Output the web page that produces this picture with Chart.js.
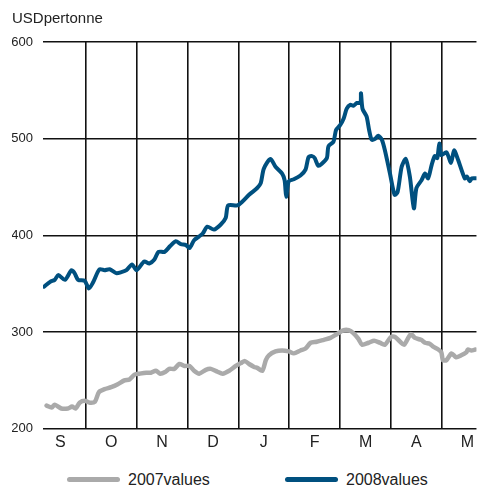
<!DOCTYPE html>
<html>
<head>
<meta charset="utf-8">
<script src="https://cdn.jsdelivr.net/npm/chart.js@4.4.0/dist/chart.umd.min.js"></script>
<style>
    body { margin: 0; background: #fff; font-family: "Liberation Sans", Arial, sans-serif; }
    #wrap { position: relative; width: 478px; height: 458px; }
    #legend { position: absolute; top: 470px; left: 0; width: 478px; height: 20px; }
    .item { position: absolute; top: 0; display: flex; align-items: center; font-size: 16px; line-height: 19px; color: #222; }
    .swatch { display: inline-block; width: 53px; height: 5px; border-radius: 3px; margin-right: 8px; }
</style>
</head>
<body>
<div id="wrap"><canvas id="priceChart"></canvas></div>
<div id="legend">
    <div class="item" style="left:67px"><span class="swatch" style="background:#aaaaaa"></span>2007values</div>
    <div class="item" style="left:285px"><span class="swatch" style="background:#00507f"></span>2008values</div>
</div>
<script>
// x = months since 1 September
const months = ['S', 'O', 'N', 'D', 'J', 'F', 'M', 'A', 'M'];
const monthMid = [0.5, 1.5, 2.5, 3.5, 4.5, 5.5, 6.5, 7.5, 8.5];
const monthLines = [1, 2, 3, 4, 5, 6, 7, 8];
const yTicks = [200, 300, 400, 500, 600];

const x2007 = [0.23, 0.33, 0.39, 0.52, 0.65, 0.73, 0.80, 0.88, 0.98, 1.08, 1.18, 1.26, 1.37, 1.50, 1.63, 1.76, 1.86, 1.96,
    2.06, 2.19, 2.28, 2.38, 2.46, 2.57, 2.64, 2.74, 2.84, 2.94, 3.04, 3.13, 3.23, 3.36, 3.46, 3.59, 3.69, 3.82, 3.95,
    4.05, 4.13, 4.21, 4.31, 4.37, 4.47, 4.54, 4.60, 4.73, 4.86, 4.99, 5.09, 5.22, 5.32, 5.42, 5.54, 5.68, 5.81, 5.94,
    6.07, 6.17, 6.26, 6.36, 6.43, 6.56, 6.67, 6.78, 6.88, 7.00, 7.08, 7.18, 7.26, 7.39, 7.47, 7.59, 7.67, 7.76, 7.83,
    7.93, 7.99, 8.02, 8.09, 8.19, 8.28, 8.38, 8.48, 8.51, 8.58, 8.66];
const v2007 = [224, 222, 225, 221, 221, 223, 221, 227, 229, 227, 228, 238, 241, 243, 246, 250, 251, 256,
    257, 258, 258, 260, 257, 259, 262, 262, 267, 265, 265, 260, 257, 261, 262, 259, 257, 260, 265,
    268, 270, 267, 264, 263, 260, 271, 276, 280, 281, 280, 278, 281, 283, 289, 290, 292, 294, 298,
    302, 302, 299, 293, 287, 289, 291, 289, 287, 295, 295, 290, 287, 298, 294, 292, 289, 288, 285,
    282, 279, 271, 271, 278, 274, 276, 279, 282, 281, 282];

const x2008 = [0.18, 0.30, 0.39, 0.46, 0.59, 0.72, 0.78, 0.85, 0.98, 1.06, 1.14, 1.27, 1.37, 1.47, 1.60, 1.70, 1.80, 1.91,
    2.00, 2.15, 2.25, 2.35, 2.43, 2.55, 2.66, 2.77, 2.87, 2.97, 3.04, 3.13, 3.23, 3.30, 3.39, 3.52, 3.65, 3.75, 3.80,
    3.98, 4.08, 4.21, 4.37, 4.44, 4.50, 4.63, 4.73, 4.86, 4.91, 4.94, 4.99, 5.09, 5.22, 5.32, 5.38, 5.45, 5.50, 5.57,
    5.64, 5.74, 5.77, 5.87, 5.92, 6.00, 6.07, 6.13, 6.20, 6.26, 6.33, 6.40, 6.41, 6.44, 6.52, 6.57, 6.62, 6.69, 6.75,
    6.82, 6.88, 6.98, 7.07, 7.13, 7.21, 7.29, 7.37, 7.45, 7.50, 7.60, 7.67, 7.73, 7.80, 7.86, 7.91, 7.95, 7.99, 8.09,
    8.18, 8.24, 8.32, 8.45, 8.49, 8.55, 8.59, 8.68];
const v2008 = [347, 352, 354, 359, 354, 364, 361, 354, 353, 345, 351, 365, 364, 365, 361, 362, 364, 370,
    364, 373, 371, 375, 383, 383, 389, 394, 391, 390, 387, 395, 399, 402, 409, 406, 411, 418, 431,
    431, 435, 442, 449, 454, 469, 479, 471, 464, 457, 440, 456, 458, 462, 468, 481, 482, 480, 472,
    474, 480, 492, 497, 509, 514, 521, 531, 535, 534, 537, 537, 547, 531, 523, 509, 499, 500, 503,
    499, 488, 464, 442, 445, 471, 479, 461, 428, 449, 457, 464, 459, 473, 482, 480, 495, 483, 486,
    475, 488, 478, 459, 461, 456, 459, 459];

const toPoints = (xs, vs) => xs.map((x, i) => ({ x: x, y: vs[i] }));

const ctx = document.getElementById('priceChart').getContext('2d');
new Chart(ctx, {
    type: 'line',
    data: {
        datasets: [{
            label: '2007values',
            data: toPoints(x2007, v2007),
            borderColor: '#aaaaaa',
            borderWidth: 4.5,
            borderCapStyle: 'round',
            borderJoinStyle: 'round',
            pointRadius: 0,
            tension: 0.25
        }, {
            label: '2008values',
            data: toPoints(x2008, v2008),
            borderColor: '#00507f',
            borderWidth: 4,
            borderCapStyle: 'round',
            borderJoinStyle: 'round',
            pointRadius: 0,
            tension: 0.25
        }]
    },
    options: {
        responsive: true,
        maintainAspectRatio: false,
        animation: false,
        layout: { padding: { left: 12, right: 0, top: 0, bottom: 2 } },
        scales: {
            x: {
                type: 'linear', min: 0.16, max: 8.68,
                grid: { color: '#111', lineWidth: 1.6, drawTicks: false },
                border: { display: false },
                ticks: { display: false },
                afterBuildTicks: s => { s.ticks = monthLines.map(v => ({ value: v })); }
            },
            xl: {
                type: 'linear', position: 'bottom', min: 0.16, max: 8.68,
                grid: { display: false, drawTicks: false },
                border: { display: false },
                ticks: {
                    padding: 4, color: '#222', autoSkip: false, maxRotation: 0,
                    font: { family: '"Liberation Sans", Arial, sans-serif', size: 16 },
                    callback: (v, i) => months[i]
                },
                afterBuildTicks: s => { s.ticks = monthMid.map(v => ({ value: v })); }
            },
            y: {
                min: 200, max: 600,
                grid: { color: '#111', lineWidth: 1.4, drawTicks: false },
                border: { display: false },
                ticks: {
                    padding: 10, color: '#222',
                    font: { family: '"Liberation Sans", Arial, sans-serif', size: 13 },
                    callback: v => v
                },
                afterBuildTicks: s => { s.ticks = yTicks.map(v => ({ value: v })); },
                afterFit: s => { s.width = 31; }
            }
        },
        plugins: {
            legend: { display: false },
            tooltip: { enabled: false },
            title: {
                display: true,
                text: 'USDpertonne',
                align: 'start',
                color: '#222',
                font: { family: '"Liberation Sans", Arial, sans-serif', size: 15, weight: 'normal' },
                padding: { top: 10, bottom: 14 }
            }
        }
    }
});
</script>
</body>
</html>
